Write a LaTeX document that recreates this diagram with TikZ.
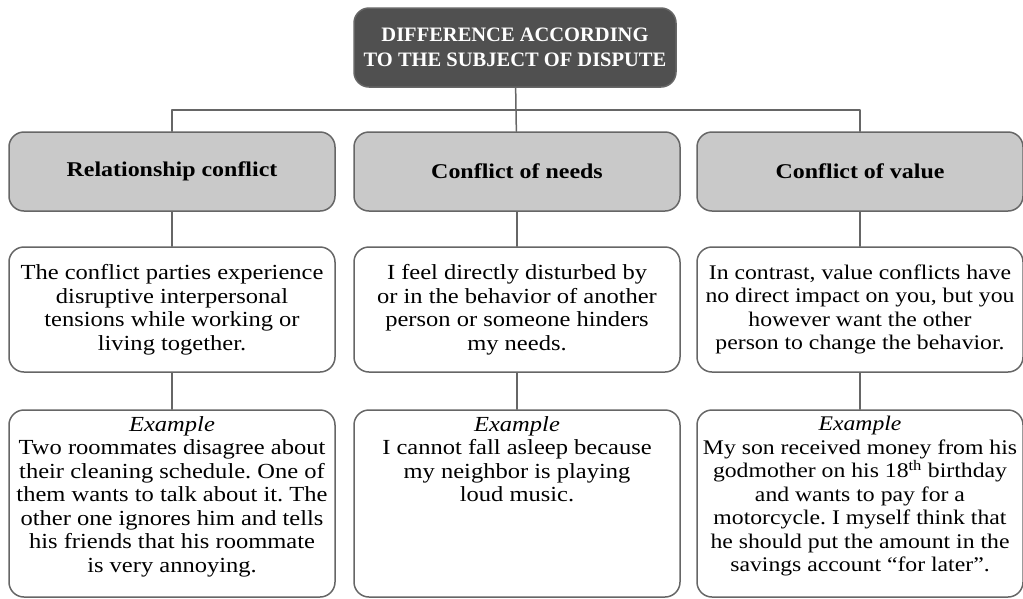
\documentclass[tikz,border=0pt]{standalone}
\usepackage{fontspec}
\setmainfont{Liberation Serif}[FakeStretch=1.14]
\newfontfamily\titlefont{Liberation Serif}
\usetikzlibrary{positioning}
\frenchspacing

\definecolor{boxline}{HTML}{666666}
\definecolor{titlefill}{HTML}{505050}
\definecolor{headfill}{HTML}{C9C9C9}

\tikzset{
  box/.style = {draw = boxline, line width = 1.5pt, rounded corners = 15pt,
    minimum width = 326pt, inner sep = 0pt, align = center},
  titlebox/.style = {box, fill = titlefill, text = white, minimum width = 322pt,
    minimum height = 79pt, font = \titlefont\fontsize{20.5}{25}\selectfont\bfseries},
  headbox/.style = {box, fill = headfill, minimum height = 79pt,
    font = \fontsize{21}{23.5}\selectfont\bfseries},
  descbox/.style = {box, fill = white, minimum height = 125pt,
    font = \fontsize{21.5}{23.5}\selectfont},
  exbox/.style = {box, fill = white, minimum height = 187pt},
  extext/.style = {align = center, anchor = north, inner sep = 0pt,
    font = \fontsize{21.5}{23.5}\selectfont},
  smalltext/.style = {font = \fontsize{20.8}{23.5}\selectfont},
  link/.style = {draw = boxline, line width = 1.5pt}
}

\begin{document}
\begin{tikzpicture}[x = 1pt, y = -1pt, line cap = round, line join = round]
  \useasboundingbox (0, 0) rectangle (1023, 598);

  % title and the three kinds of conflict
  \node[titlebox] (title) at (515, 47.5)
    {DIFFERENCE ACCORDING\\TO THE SUBJECT OF DISPUTE};
  \node[headbox] (relhead) at (172, 171.5) {Relationship conflict};
  \node[headbox] (needhead) at (517, 171.5) {Conflict of needs};
  \node[headbox] (valhead) at (860, 171.5) {Conflict of value};

  % descriptions
  \node[descbox] (reldesc) at (172, 309.5)
    {The conflict parties experience\\disruptive interpersonal\\
     tensions while working or\\living together.};
  \node[descbox] (needdesc) at (517, 309.5)
    {I feel directly disturbed by\\or in the behavior of another\\
     person or someone hinders\\my needs.};
  \node[descbox, smalltext] (valdesc) at (860, 309.5)
    {In contrast, value conflicts have\\no direct impact on you, but you\\
     however want the other\\person to change the behavior.};

  % examples
  \node[exbox] (relex) at (172, 503.5) {};
  \node[exbox] (needex) at (517, 503.5) {};
  \node[exbox] (valex) at (860, 503.5) {};
  \node[extext] (relextext) at ([yshift = -7pt] relex.north)
    {\textit{Example}\\Two roommates disagree about\\their cleaning schedule. One of\\
     them wants to talk about it. The\\other one ignores him and tells\\
     his friends that his roommate\\is very annoying.};
  \node[extext] (needextext) at ([yshift = -7pt] needex.north)
    {\textit{Example}\\I cannot fall asleep because\\my neighbor is playing\\loud music.};
  \node[extext, smalltext] (valextext) at ([yshift = -7pt] valex.north)
    {\textit{Example}\\My son received money from his\\
     godmother on his 18\textsuperscript{th} birthday\\and wants to pay for a\\
     motorcycle. I myself think that\\he should put the amount in the\\
     savings account “for later”.};

  % connectors
  \coordinate (bus) at (517, 110);
  \draw[link] (title) -- (needhead);
  \draw[link] (relhead.north) |- (bus) -| (valhead.north);
  \draw[link] (relhead) -- (reldesc);
  \draw[link] (needhead) -- (needdesc);
  \draw[link] (valhead) -- (valdesc);
  \draw[link] (reldesc) -- (relex);
  \draw[link] (needdesc) -- (needex);
  \draw[link] (valdesc) -- (valex);
\end{tikzpicture}
\end{document}
